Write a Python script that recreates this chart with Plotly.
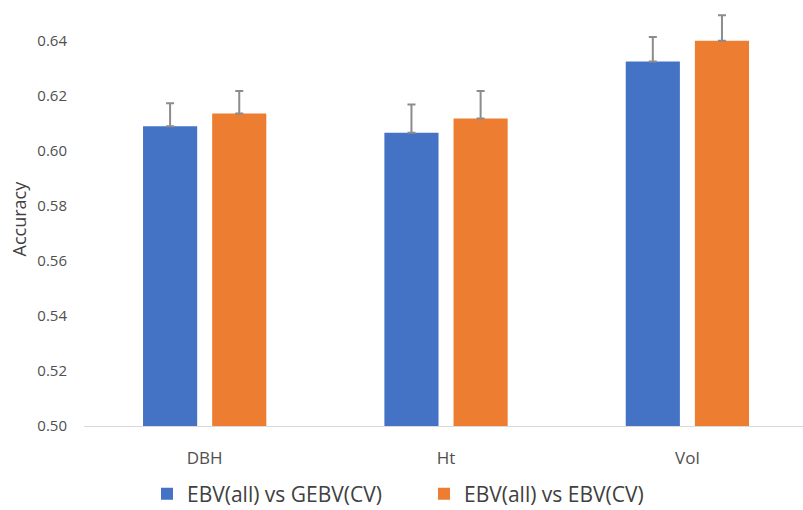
import plotly.graph_objects as go

# Trait categories and accuracy per comparison
traits = ["DBH", "Ht", "Vol"]
series_names = ["EBV(all) vs GEBV(CV)", "EBV(all) vs EBV(CV)"]
acc_gebv = [0.6089, 0.6065, 0.6324]
acc_ebv = [0.6135, 0.6117, 0.6399]
err_gebv = [0.0083, 0.0103, 0.0089]
err_ebv = [0.0082, 0.0100, 0.0093]
y_ticks = [0.50, 0.52, 0.54, 0.56, 0.58, 0.60, 0.62, 0.64]

colors = ["#4472C4", "#ED7D31"]
font_family = "Open Sans, Noto Sans, sans-serif"
label_color = "#505050"

fig = go.Figure()
for name, vals, errs, col in zip(series_names, [acc_gebv, acc_ebv], [err_gebv, err_ebv], colors):
    fig.add_trace(go.Bar(
        x=traits, y=vals, name=name,
        marker=dict(color=col, line=dict(width=0)),
        error_y=dict(type="data", symmetric=False, array=errs,
                     arrayminus=[0] * len(errs),
                     color="#8c8c8c", thickness=2, width=4),
    ))

fig.update_layout(
    width=803, height=510,
    margin=dict(l=84, r=0, t=13, b=84, autoexpand=False),
    paper_bgcolor="white", plot_bgcolor="white",
    barmode="group", bargap=0.427, bargroupgap=0.217,
    font=dict(family=font_family, color=label_color),
    showlegend=True,
    legend=dict(orientation="h", x=(147 - 84) / 719, xanchor="left",
                yref="container", y=(510 - 494) / 510, yanchor="middle",
                font=dict(size=21, color="#404040"), itemwidth=30,
                entrywidth=232, entrywidthmode="pixels",
                tracegroupgap=0, borderwidth=0,
                traceorder="normal", bgcolor="rgba(0,0,0,0)"),
    xaxis=dict(range=[-0.5, 2.479], showline=True, linecolor="#d9d9d9", linewidth=1,
               showgrid=False, zeroline=False, ticks="", ticklabelstandoff=17,
               tickfont=dict(size=17, color=label_color)),
    yaxis=dict(range=[0.50, 0.65], tickvals=y_ticks, tickformat=".2f",
               showgrid=False, zeroline=False, showline=False, ticks="",
               ticklabelstandoff=16, tickfont=dict(size=15, color=label_color)),
    annotations=[dict(text="Accuracy", xref="paper", yref="paper",
                      x=(18 - 84) / 719, y=(425.5 - 218) / 413,
                      xanchor="center", yanchor="middle", textangle=-90, showarrow=False,
                      font=dict(size=18, color="#404040", family=font_family))],
)

fig.write_html("out.html")
